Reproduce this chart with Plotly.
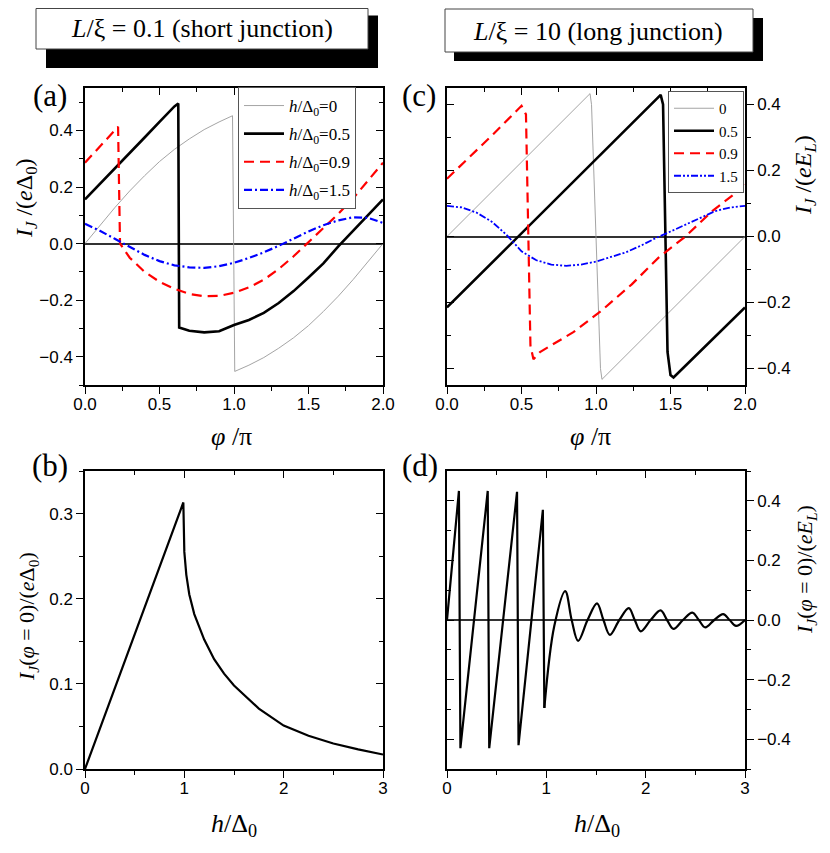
import plotly.graph_objects as go

# the page body adds an 8 px margin, so the figure is drawn 8 px in from the corner
OFF = 8
W, H = 830 - OFF, 853 - OFF

# ---------------- data ----------------
# panel (a): short junction, I_J/(e Delta0) vs phi/pi
a_h0_x = [0, 0.1, 0.2, 0.3, 0.4, 0.5, 0.6, 0.7, 0.8, 0.9, 0.99, 1.005,
          1.1, 1.2, 1.3, 1.4, 1.5, 1.6, 1.7, 1.8, 1.9, 2.0]
a_h0_y = [0, 0.065, 0.127, 0.186, 0.24, 0.29, 0.333, 0.37, 0.403, 0.43, 0.452, -0.452,
          -0.43, -0.403, -0.37, -0.333, -0.29, -0.24, -0.186, -0.127, -0.065, 0]
a_h05_x = [0, 0.1, 0.2, 0.3, 0.4, 0.5, 0.6, 0.626, 0.632, 0.7, 0.8, 0.9, 1.0,
           1.1, 1.2, 1.3, 1.4, 1.5, 1.6, 1.7, 1.8, 1.9, 2.0]
a_h05_y = [0.156, 0.21, 0.265, 0.32, 0.375, 0.43, 0.485, 0.495, -0.297, -0.308, -0.314, -0.31, -0.288,
           -0.27, -0.245, -0.21, -0.168, -0.12, -0.07, -0.01, 0.045, 0.1, 0.156]
a_h09_x = [0, 0.1, 0.2, 0.222, 0.235, 0.3, 0.4, 0.5, 0.6, 0.7, 0.8, 0.9, 1.0,
           1.1, 1.2, 1.3, 1.4, 1.5, 1.6, 1.7, 1.8, 1.9, 2.0]
a_h09_y = [0.286, 0.344, 0.402, 0.413, 0.0, -0.05, -0.1, -0.135, -0.16, -0.178, -0.186, -0.185, -0.174,
           -0.155, -0.128, -0.09, -0.045, 0.005, 0.055, 0.105, 0.16, 0.225, 0.286]
a_h15_x = [0, 0.1, 0.2, 0.3, 0.4, 0.5, 0.6, 0.7, 0.8, 0.9, 1.0,
           1.1, 1.2, 1.3, 1.4, 1.5, 1.6, 1.7, 1.8, 1.9, 2.0]
a_h15_y = [0.07, 0.045, 0.017, -0.012, -0.04, -0.062, -0.077, -0.084, -0.086, -0.08, -0.068,
           -0.051, -0.031, -0.008, 0.017, 0.043, 0.065, 0.082, 0.093, 0.091, 0.073]

# panel (c): long junction, I_J/(e E_L) vs phi/pi
c_h0_x = [0, 0.5, 0.96, 0.97, 0.99, 1.01, 1.03, 1.04, 1.5, 2.0]
c_h0_y = [0, 0.225, 0.433, 0.40, 0.15, -0.15, -0.40, -0.433, -0.225, 0]
c_h05_x = [0, 0.5, 1.0, 1.434, 1.45, 1.46, 1.47, 1.48, 1.50, 1.52, 2.0]
c_h05_y = [-0.215, 0.01, 0.235, 0.429, 0.40, 0.2, -0.1, -0.35, -0.42, -0.427, -0.215]
c_h09_x = [0, 0.31, 0.5, 0.53, 0.546, 0.56, 0.58, 0.624, 0.848, 1.036, 1.24, 1.42, 1.6, 1.78, 1.96, 2.0]
c_h09_y = [0.175, 0.31, 0.396, 0.37, 0.0, -0.33, -0.372, -0.35, -0.29, -0.225, -0.145, -0.064, 0.0, 0.077, 0.14, 0.165]
c_h15_x = [0, 0.1, 0.2, 0.3, 0.4, 0.5, 0.6, 0.7, 0.8, 0.9, 1.0,
           1.1, 1.2, 1.3, 1.4, 1.5, 1.6, 1.7, 1.8, 1.9, 2.0]
c_h15_y = [0.093, 0.088, 0.072, 0.045, 0.005, -0.045, -0.072, -0.085, -0.089, -0.085, -0.076,
           -0.063, -0.048, -0.028, -0.005, 0.015, 0.035, 0.057, 0.077, 0.088, 0.093]

# panel (b): I_J(phi=0)/(e Delta0) vs h/Delta0
b_x = [0, 0.5, 0.99, 1.0, 1.02, 1.05, 1.1, 1.2, 1.3, 1.4, 1.5, 1.75, 2.0, 2.25, 2.5, 2.75, 3.0]
b_y = [0, 0.157, 0.313, 0.255, 0.228, 0.205, 0.182, 0.152, 0.129, 0.112, 0.098, 0.071, 0.051, 0.039, 0.030, 0.023, 0.017]

# panel (d): I_J(phi=0)/(e E_L) vs h/Delta0
d_saw_x = [0, 0.12, 0.135, 0.41, 0.425, 0.705, 0.72, 0.965, 0.98]
d_saw_y = [0, 0.433, -0.43, 0.433, -0.43, 0.43, -0.42, 0.37, -0.295]
d_tail_x = [0.98, 1.08, 1.19, 1.255, 1.32, 1.415, 1.51, 1.575, 1.64, 1.735, 1.83, 1.89, 1.95,
            2.05, 2.15, 2.215, 2.28, 2.375, 2.47, 2.535, 2.6, 2.69, 2.78, 2.845, 2.91, 3.0]
d_tail_y = [-0.295, -0.02, 0.097, 0.0, -0.07, 0.0, 0.056, 0.0, -0.05, 0.0, 0.04, 0.0, -0.038,
            0.0, 0.032, 0.0, -0.03, 0.0, 0.025, 0.0, -0.025, 0.0, 0.02, 0.0, -0.02, 0.0]

leg_a = ["<i>h</i>/Δ<sub>0</sub>=0", "<i>h</i>/Δ<sub>0</sub>=0.5",
         "<i>h</i>/Δ<sub>0</sub>=0.9", "<i>h</i>/Δ<sub>0</sub>=1.5"]
leg_c = ["0", "0.5", "0.9", "1.5"]


def px(x):
    return (x - OFF) / W


def py(y):
    return 1 - (y - OFF) / H


SERIF = "Liberation Serif"
SANS = "Liberation Sans"

s_h0 = dict(color="#9a9a9a", width=0.9)
s_h05 = dict(color="black", width=2.6)
s_h09 = dict(color="#ff0000", width=2.2, dash="10px,6px")
s_h15a = dict(color="#0000ff", width=2.2, dash="8px,3px,2px,3px")
s_h15c = dict(color="#0000ff", width=1.8, dash="7px,2px,2px,2px,2px,2px")

fig = go.Figure()

for i, (xs, ys, st, nm) in enumerate([(a_h0_x, a_h0_y, s_h0, leg_a[0]), (a_h05_x, a_h05_y, s_h05, leg_a[1]),
                                      (a_h09_x, a_h09_y, s_h09, leg_a[2]), (a_h15_x, a_h15_y, s_h15a, leg_a[3])]):
    fig.add_trace(go.Scatter(x=xs, y=ys, mode="lines", line=st, name=nm, legendgroup="a%d" % i,
                             xaxis="x", yaxis="y", legend="legend"))

for i, (xs, ys, st, nm) in enumerate([(c_h0_x, c_h0_y, s_h0, leg_c[0]), (c_h05_x, c_h05_y, s_h05, leg_c[1]),
                                      (c_h09_x, c_h09_y, s_h09, leg_c[2]), (c_h15_x, c_h15_y, s_h15c, leg_c[3])]):
    fig.add_trace(go.Scatter(x=xs, y=ys, mode="lines", line=st, name=nm,
                             xaxis="x2", yaxis="y2", legend="legend2"))

fig.add_trace(go.Scatter(x=b_x, y=b_y, mode="lines", line=dict(color="black", width=2.2),
                         xaxis="x3", yaxis="y3", showlegend=False))
fig.add_trace(go.Scatter(x=d_saw_x, y=d_saw_y, mode="lines", line=dict(color="black", width=2.2),
                         xaxis="x4", yaxis="y4", showlegend=False))
fig.add_trace(go.Scatter(x=d_tail_x, y=d_tail_y, mode="lines", line=dict(color="black", width=2.2, shape="spline"),
                         xaxis="x4", yaxis="y4", showlegend=False))

# dummy traces so the mirrored (inside-tick) overlay axes are drawn
for k in range(5, 9):
    fig.add_trace(go.Scatter(x=[None], y=[None], xaxis="x%d" % k, yaxis="y%d" % k,
                             showlegend=False, hoverinfo="skip"))

xl = [px(85), px(383)]
xr = [px(447), px(745)]
yt = [py(385), py(88)]
yb = [py(769), py(471)]

tickfont = dict(family=SANS, size=17, color="black")


def xax(dom, rng, dt, mdt, anchor, fmt):
    return dict(domain=dom, range=rng, anchor=anchor, dtick=dt, tick0=0, tickformat=fmt,
                ticks="outside", ticklen=7, tickwidth=1.3, tickcolor="black", ticklabelstandoff=-4,
                minor=dict(dtick=mdt, ticks="outside", ticklen=4, tickwidth=1.2, tickcolor="black"),
                showline=True, linecolor="black", linewidth=1.5, showgrid=False, zeroline=False,
                tickfont=tickfont, fixedrange=True, automargin=False)


def yax(dom, rng, dt, mdt, anchor, side, zl):
    return dict(domain=dom, range=rng, anchor=anchor, side=side, dtick=dt, tick0=0, tickformat=".1f",
                ticks="outside", ticklen=7, tickwidth=1.3, tickcolor="black",
                minor=dict(dtick=mdt, ticks="outside", ticklen=4, tickwidth=1.2, tickcolor="black"),
                showline=True, linecolor="black", linewidth=1.5, showgrid=False,
                zeroline=zl, zerolinecolor="#333333", zerolinewidth=1.6,
                tickfont=tickfont, fixedrange=True, automargin=False)


def mx(over, rng, dt, mdt, anchor):
    return dict(overlaying=over, range=rng, anchor=anchor, side="top", dtick=dt, tick0=0,
                ticks="inside", ticklen=7, tickwidth=1.3, tickcolor="black",
                minor=dict(dtick=mdt, ticks="inside", ticklen=4, tickwidth=1.2, tickcolor="black"),
                showline=True, linecolor="black", linewidth=1.5, showgrid=False, zeroline=False,
                showticklabels=False, fixedrange=True, automargin=False)


def my(over, rng, dt, mdt, anchor, side):
    return dict(overlaying=over, range=rng, anchor=anchor, side=side, dtick=dt, tick0=0,
                ticks="inside", ticklen=7, tickwidth=1.3, tickcolor="black",
                minor=dict(dtick=mdt, ticks="inside", ticklen=4, tickwidth=1.2, tickcolor="black"),
                showline=True, linecolor="black", linewidth=1.5, showgrid=False, zeroline=False,
                showticklabels=False, fixedrange=True, automargin=False)


ra, rc, rb, rd = [-0.5, 0.55], [-0.45, 0.45], [0, 0.35], [-0.5, 0.5]

layout = dict(
    width=W, height=H, margin=dict(l=0, r=0, t=0, b=0, autoexpand=False),
    paper_bgcolor="white", plot_bgcolor="white",
    xaxis=xax(xl, [0, 2], 0.5, 0.25, "y", ".1f"),
    yaxis=yax(yt, ra, 0.2, 0.1, "x", "left", True),
    xaxis2=xax(xr, [0, 2], 0.5, 0.25, "y2", ".1f"),
    yaxis2=yax(yt, rc, 0.2, 0.1, "x2", "right", True),
    xaxis3=xax(xl, [0, 3], 1, 0.5, "y3", "d"),
    yaxis3=yax(yb, rb, 0.1, 0.05, "x3", "left", False),
    xaxis4=xax(xr, [0, 3], 1, 0.5, "y4", "d"),
    yaxis4=yax(yb, rd, 0.2, 0.1, "x4", "right", True),
    xaxis5=mx("x", [0, 2], 0.5, 0.25, "y5"), yaxis5=my("y", ra, 0.2, 0.1, "x5", "right"),
    xaxis6=mx("x2", [0, 2], 0.5, 0.25, "y6"), yaxis6=my("y2", rc, 0.2, 0.1, "x6", "left"),
    xaxis7=mx("x3", [0, 3], 1, 0.5, "y7"), yaxis7=my("y3", rb, 0.1, 0.05, "x7", "right"),
    xaxis8=mx("x4", [0, 3], 1, 0.5, "y8"), yaxis8=my("y4", rd, 0.2, 0.1, "x8", "left"),
    legend=dict(x=px(238), y=py(87), xanchor="left", yanchor="top", bgcolor="white",
                bordercolor="#555", borderwidth=1, font=dict(family=SERIF, size=17, color="black"),
                itemwidth=40, tracegroupgap=3),
    legend2=dict(x=px(668), y=py(91), xanchor="left", yanchor="top", bgcolor="white",
                 bordercolor="#555", borderwidth=1, font=dict(family=SERIF, size=15, color="black"),
                 itemwidth=40),
    showlegend=True,
)
fig.update_layout(**layout)

# title boxes with drop shadow
shapes = []
for (x0, y0, x1, y1, sx1, sy1, dx, dy) in [(36, 8.5, 368, 49, 378, 68, 10, 7), (445, 9, 753, 52, 763, 61, 9, 9)]:
    shapes.append(dict(type="rect", xref="paper", yref="paper", x0=px(x0 + dx), x1=px(sx1),
                       y0=py(sy1), y1=py(y0 + dy), fillcolor="black", line=dict(width=0)))
    shapes.append(dict(type="rect", xref="paper", yref="paper", x0=px(x0), x1=px(x1),
                       y0=py(y1), y1=py(y0), fillcolor="white", line=dict(color="#444", width=1)))
fig.update_layout(shapes=shapes)


def ann(x, y, text, size, angle=0, family=SERIF):
    fig.add_annotation(x=px(x), y=py(y), xref="paper", yref="paper", text=text, showarrow=False,
                       xanchor="center", yanchor="middle", textangle=angle,
                       font=dict(family=family, size=size, color="black"))


ann(202, 29, "<i>L</i>/ξ = 0.1 (short junction)", 26)
ann(598, 31, "<i>L</i>/ξ = 10 (long junction)", 26)

ann(50, 96, "(a)", 31)
ann(419, 96, "(c)", 31)
ann(50, 465, "(b)", 31)
ann(420, 465, "(d)", 31)

ann(26, 198, "<i>I<sub>J</sub></i> /(<i>e</i>Δ<sub>0</sub>)", 24, -90)
ann(805, 175, "<i>I<sub>J</sub></i> /(<i>eE<sub>L</sub></i>)", 24, -90)
ann(28, 617, "<i>I<sub>J</sub></i>(<i>φ</i> = 0)/(<i>e</i>Δ<sub>0</sub>)", 22, -90)
ann(806, 570, "<i>I<sub>J</sub></i>(<i>φ</i> = 0)/(<i>eE<sub>L</sub></i>)", 22, -90)

ann(231, 436, "<i>φ</i> /π", 26)
ann(590, 436, "<i>φ</i> /π", 26)
ann(234, 825, "<i>h</i>/Δ<sub>0</sub>", 26)
ann(597, 825, "<i>h</i>/Δ<sub>0</sub>", 26)

fig.write_html("out.html")
